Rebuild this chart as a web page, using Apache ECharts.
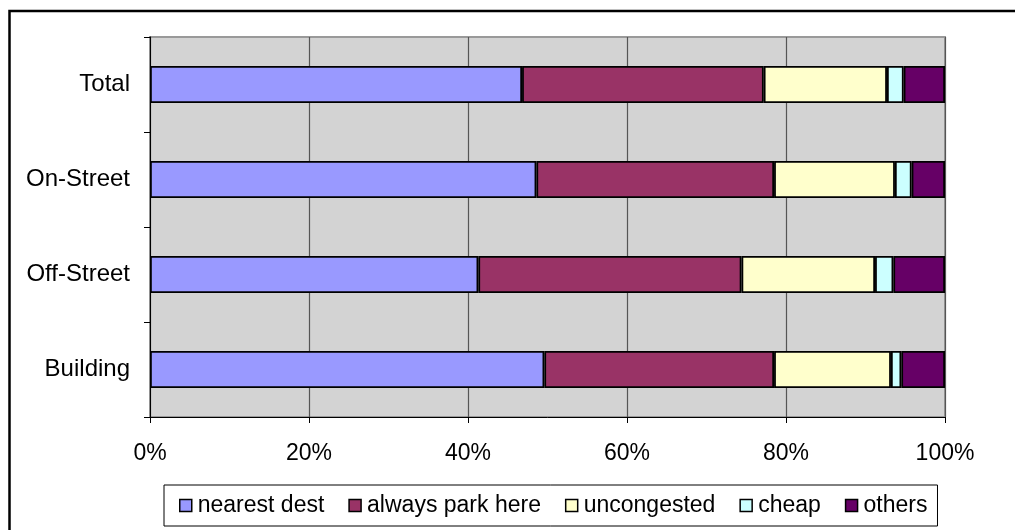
<!DOCTYPE html>
<html>
<head>
<meta charset="utf-8">
<script src="https://cdn.jsdelivr.net/npm/echarts@6/dist/echarts.min.js"></script>
<style>
  html, body { margin: 0; padding: 0; background: #fff; }
  #chart { width: 1015px; height: 530px; }
</style>
</head>
<body>
<div id="chart"></div>
<script>
// Parking reasons by parking type (share of respondents, %)
const categories = ['Total', 'On-Street', 'Off-Street', 'Building'];
const seriesNames = ['nearest dest', 'always park here', 'uncongested', 'cheap', 'others'];
const nearestDest   = [46.8, 48.6, 41.3, 49.6];
const alwaysPark    = [30.4, 29.9, 33.1, 28.9];
const uncongested   = [15.5, 15.2, 16.8, 14.7];
const cheap         = [2.1, 2.1, 2.3, 1.3];
const others        = [5.2, 4.2, 6.5, 5.5];
const xTicks = [0, 20, 40, 60, 80, 100];
const colors = ['#9999FF', '#993366', '#FFFFCC', '#CCFFFF', '#660066'];

const values = [nearestDest, alwaysPark, uncongested, cheap, others];
const font = 'Liberation Sans, Arial, sans-serif';

const chart = echarts.init(document.getElementById('chart'), null, { renderer: 'canvas' });
chart.setOption({
  animation: false,
  backgroundColor: '#fff',
  textStyle: { fontFamily: font },
  grid: {
    left: 150, right: 70, top: 37, bottom: 113,
    show: true, backgroundColor: '#D3D3D3', borderColor: '#999', borderWidth: 2
  },
  xAxis: {
    type: 'value',
    min: xTicks[0], max: xTicks[xTicks.length - 1], interval: 20,
    axisLine: { show: true, lineStyle: { color: '#000', width: 1 } },
    axisTick: { show: true, length: 6, lineStyle: { color: '#000' } },
    axisLabel: { formatter: '{value}%', fontSize: 23, color: '#000', margin: 25, fontFamily: font },
    splitLine: { show: true, lineStyle: { color: '#555', width: 1.2 } }
  },
  yAxis: {
    type: 'category',
    data: categories,
    inverse: true,
    axisLine: { show: true, lineStyle: { color: '#000', width: 1 } },
    axisTick: { show: true, length: 6, lineStyle: { color: '#000' } },
    axisLabel: { fontSize: 24, color: '#000', margin: 20, fontFamily: font },
    splitLine: { show: false }
  },
  legend: {
    data: seriesNames,
    left: 164, top: 485,
    orient: 'horizontal',
    icon: 'rect',
    itemWidth: 12, itemHeight: 12,
    itemGap: 24,
    padding: [9, 10, 9, 15],
    borderColor: '#000', borderWidth: 1,
    backgroundColor: '#fff',
    textStyle: { fontSize: 23, color: '#000', fontFamily: font, padding: [0, 0, 0, 1] },
    itemStyle: { borderColor: '#000', borderWidth: 1.5 }
  },
  series: seriesNames.map((name, i) => ({
    name: name,
    type: 'bar',
    stack: 'total',
    barWidth: 37,
    data: values[i],
    itemStyle: { color: colors[i], borderColor: '#000', borderWidth: 1.8 }
  })),
  graphic: [{
    type: 'rect',
    shape: { x: 9.5, y: 11, width: 1100, height: 600 },
    style: { fill: 'none', stroke: '#000', lineWidth: 2.5 },
    silent: true
  }]
});
</script>
</body>
</html>
